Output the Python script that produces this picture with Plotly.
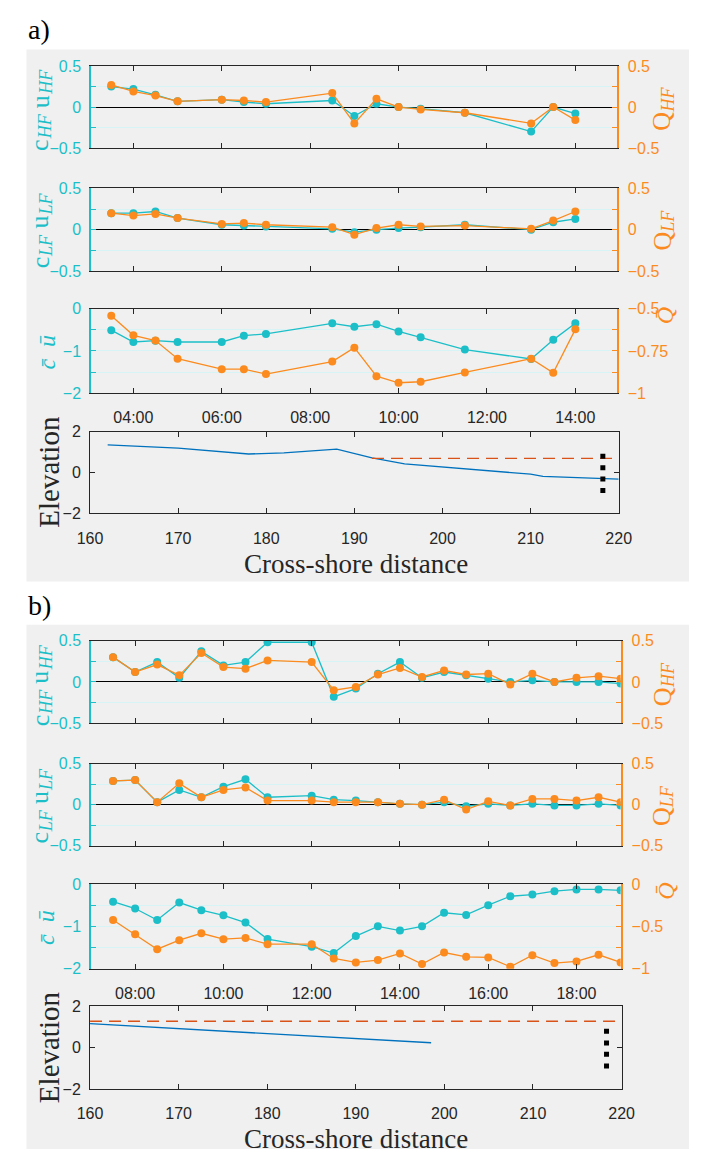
import plotly.graph_objects as go

W, H = 702, 1158


def px(x):
    return x / W


def py(y):
    return 1 - y / H


CYAN = "#1cbfc8"
ORANGE = "#fb8b1e"
GRID = "#d6f4f5"
DARK = "#262626"
BLUE = "#0072bd"
RED = "#d95319"
GRAY_BG = "#f0f0f0"
SANS = "Liberation Sans, Arial, sans-serif"
SERIF = "Liberation Serif, Times New Roman, serif"
DAY = "2000-01-01 "

# ---------------- data: panel a ----------------
times_a = ["03:30", "04:00", "04:30", "05:00", "06:00", "06:30", "07:00", "08:30",
           "09:00", "09:30", "10:00", "10:30", "11:30", "13:00", "13:30", "14:00"]
c_hf_a = [0.25, 0.22, 0.15, 0.07, 0.09, 0.06, 0.04, 0.08, -0.11, 0.04, 0.0, -0.02, -0.07, -0.30, 0.0, -0.08]
q_hf_a = [0.27, 0.19, 0.14, 0.07, 0.09, 0.08, 0.06, 0.17, -0.20, 0.10, 0.0, -0.03, -0.07, -0.20, 0.0, -0.16]
c_lf_a = [0.20, 0.20, 0.22, 0.14, 0.06, 0.05, 0.04, 0.01, -0.03, 0.0, 0.02, 0.03, 0.06, 0.0, 0.09, 0.13]
q_lf_a = [0.20, 0.17, 0.19, 0.14, 0.07, 0.08, 0.06, 0.03, -0.06, 0.02, 0.06, 0.04, 0.05, 0.01, 0.11, 0.22]
cbar_a = [-0.51, -0.79, -0.76, -0.79, -0.79, -0.64, -0.60, -0.35, -0.43, -0.37, -0.54, -0.68, -0.97, -1.19, -0.74, -0.35]
qbar_a = [-0.543, -0.658, -0.689, -0.796, -0.858, -0.858, -0.887, -0.813, -0.731, -0.899, -0.938, -0.932,
          -0.877, -0.796, -0.879, -0.623]
dist_a = [162, 170, 178, 182, 188, 190, 192, 195.7, 200, 204.8, 210, 211.4, 215.4, 220]
elev_a = [1.36, 1.20, 0.91, 0.96, 1.15, 0.95, 0.72, 0.43, 0.27, 0.11, -0.08, -0.19, -0.24, -0.32]
water_x_a = [192, 220]
water_y_a = [0.69, 0.69]
sensor_x_a = [218.2, 218.2, 218.2, 218.2]
sensor_y_a = [0.80, 0.24, -0.32, -0.88]

# ---------------- data: panel b ----------------
times_b = ["07:30", "08:00", "08:30", "09:00", "09:30", "10:00", "10:30", "11:00", "12:00", "12:30",
           "13:00", "13:30", "14:00", "14:30", "15:00", "15:30", "16:00", "16:30", "17:00", "17:30",
           "18:00", "18:30", "19:00"]
c_hf_b = [0.30, 0.12, 0.24, 0.05, 0.37, 0.20, 0.24, 0.48, 0.48, -0.18, -0.08, 0.10, 0.24, 0.05, 0.12,
          0.08, 0.04, 0.0, 0.02, 0.0, 0.0, 0.0, -0.02]
q_hf_b = [0.30, 0.12, 0.21, 0.08, 0.35, 0.18, 0.16, 0.26, 0.24, -0.10, -0.06, 0.09, 0.17, 0.06, 0.14,
          0.09, 0.10, -0.03, 0.10, 0.0, 0.05, 0.07, 0.04]
c_lf_b = [0.29, 0.30, 0.03, 0.18, 0.09, 0.22, 0.31, 0.09, 0.11, 0.06, 0.05, 0.03, 0.01, 0.0, 0.03,
          -0.02, 0.01, -0.01, 0.01, -0.01, -0.01, 0.01, -0.01]
q_lf_b = [0.29, 0.30, 0.03, 0.26, 0.09, 0.18, 0.21, 0.05, 0.05, 0.03, 0.03, 0.03, 0.01, 0.0, 0.06,
          -0.06, 0.04, -0.01, 0.07, 0.07, 0.05, 0.09, 0.03]
cbar_b = [-0.42, -0.58, -0.85, -0.44, -0.62, -0.74, -0.91, -1.30, -1.48, -1.63, -1.23, -1.0, -1.1, -1.0,
          -0.68, -0.73, -0.5, -0.29, -0.25, -0.17, -0.13, -0.13, -0.15]
qbar_b = [-0.426, -0.594, -0.77, -0.664, -0.582, -0.652, -0.637, -0.711, -0.711, -0.879, -0.926, -0.898,
          -0.82, -0.945, -0.809, -0.86, -0.867, -0.977, -0.84, -0.934, -0.914, -0.836, -0.926]
dist_b = [160, 170, 180, 190, 198.5]
elev_b = [1.15, 0.92, 0.69, 0.44, 0.23]
water_x_b = [160, 220]
water_y_b = [1.27, 1.27]
sensor_x_b = [218.3, 218.3, 218.3, 218.3]
sensor_y_b = [0.78, 0.22, -0.33, -0.89]

# tick settings: (labelled tick values, minor tick step, range)
flux_ticks = ([-0.5, 0, 0.5], 0.25, [-0.5, 0.5])
mean_ticks = ([-2, -1, 0], 0.5, [-2, 0])
qbar_ticks_a = ([-1, -0.75, -0.5], 0.125, [-1, -0.5])
qbar_ticks_b = ([-1, -0.5, 0], 0.25, [-1, 0])
dist_ticks = [160, 170, 180, 190, 200, 210, 220]
elev_ticks = [-2, 0, 2]

t_a = [DAY + t for t in times_a]
t_b = [DAY + t for t in times_b]
range_a = [DAY + "03:02:30", DAY + "14:56:15"]
range_b = [DAY + "07:00:00", DAY + "19:00:00"]

# pixel boxes (left, right, top, bottom)
boxes = {
    1: (81, 627, 59, 142), 2: (81, 627, 183, 267), 3: (81, 627, 305, 391), 4: (80, 629, 430, 513),
    5: (81, 631, 642, 726), 6: (81, 631, 767, 850), 7: (81, 631, 889, 975), 8: (80, 632, 1013, 1097),
}


def nm(prefix, i):
    return prefix + ("" if i == 1 else str(i))


fig = go.Figure()
layout = dict(width=W, height=H, margin=dict(l=0, r=0, t=0, b=0), paper_bgcolor="white",
              plot_bgcolor="white", showlegend=False)

flux_specs = [
    (1, t_a, range_a, c_hf_a, q_hf_a, flux_ticks, flux_ticks, 9),
    (2, t_a, range_a, c_lf_a, q_lf_a, flux_ticks, flux_ticks, 10),
    (3, t_a, range_a, cbar_a, qbar_a, mean_ticks, qbar_ticks_a, 11),
    (5, t_b, range_b, c_hf_b, q_hf_b, flux_ticks, flux_ticks, 12),
    (6, t_b, range_b, c_lf_b, q_lf_b, flux_ticks, flux_ticks, 13),
    (7, t_b, range_b, cbar_b, qbar_b, mean_ticks, qbar_ticks_b, 14),
]

for i, tt, rng, left, right, lt, rt, ri in flux_specs:
    l, r, t, b = boxes[i]
    xref = nm("x", i)
    yref = nm("y", i)
    rref = "y" + str(ri)
    layout[nm("xaxis", i)] = dict(
        domain=[px(l), px(r)], anchor=yref, type="date", range=rng, tickformat="%H:%M",
        dtick=7200000, tick0=DAY + "00:00", ticks="inside", ticklen=5, tickcolor=DARK,
        showline=True, linecolor=DARK, linewidth=1, mirror="ticks", showgrid=False, zeroline=False,
        showticklabels=(i in (3, 7)), tickfont=dict(family=SANS, size=16, color=DARK),
        ticklabelstandoff=10)
    layout[nm("yaxis", i)] = dict(
        domain=[py(b), py(t)], anchor=xref, range=lt[2], tickmode="array", tickvals=lt[0],
        ticks="inside", ticklen=5, tickcolor=CYAN, showline=True, linecolor=CYAN, linewidth=1.5,
        showgrid=True, gridcolor=GRID, gridwidth=1, zeroline=(i not in (3, 7)), zerolinecolor="black",
        zerolinewidth=1.2, tickfont=dict(family=SANS, size=16, color=CYAN), ticklabelstandoff=5,
        minor=dict(tick0=lt[2][0], dtick=lt[1], ticks="inside", ticklen=5, tickcolor=CYAN,
                   showgrid=True, gridcolor=GRID, gridwidth=1))
    layout["yaxis" + str(ri)] = dict(
        overlaying=yref, anchor=xref, side="right", range=rt[2], tickmode="array", tickvals=rt[0],
        ticks="inside", ticklen=5, tickcolor=ORANGE, showline=True, linecolor=ORANGE, linewidth=1.5,
        showgrid=False, zeroline=False, tickfont=dict(family=SANS, size=16, color=ORANGE),
        ticklabelstandoff=6,
        minor=dict(tick0=rt[2][0], dtick=rt[1], ticks="inside", ticklen=5, tickcolor=ORANGE,
                   showgrid=False))
    fig.add_trace(go.Scatter(x=tt, y=left, xaxis=xref, yaxis=yref, mode="lines+markers",
                             line=dict(color=CYAN, width=1.3), marker=dict(size=8, color=CYAN)))
    fig.add_trace(go.Scatter(x=tt, y=right, xaxis=xref, yaxis=rref, mode="lines+markers",
                             line=dict(color=ORANGE, width=1.3), marker=dict(size=8, color=ORANGE)))

# elevation subplots
elev_specs = [
    (4, dist_a, elev_a, water_x_a, water_y_a, sensor_x_a, sensor_y_a),
    (8, dist_b, elev_b, water_x_b, water_y_b, sensor_x_b, sensor_y_b),
]
for i, dx, ey, wx, wy, sx, sy in elev_specs:
    l, r, t, b = boxes[i]
    xref = nm("x", i)
    yref = nm("y", i)
    layout[nm("xaxis", i)] = dict(
        domain=[px(l), px(r)], anchor=yref, range=[160, 220], tickvals=dist_ticks,
        ticks="inside", ticklen=5, tickcolor=DARK, showline=True, linecolor=DARK, linewidth=1,
        mirror="ticks", showgrid=False, zeroline=False,
        tickfont=dict(family=SANS, size=16, color=DARK), ticklabelstandoff=10)
    layout[nm("yaxis", i)] = dict(
        domain=[py(b), py(t)], anchor=xref, range=[-2, 2], tickvals=elev_ticks,
        ticks="inside", ticklen=5, tickcolor=DARK, showline=True, linecolor=DARK, linewidth=1,
        mirror="ticks", showgrid=False, zeroline=False,
        tickfont=dict(family=SANS, size=16, color=DARK), ticklabelstandoff=5)
    fig.add_trace(go.Scatter(x=dx, y=ey, xaxis=xref, yaxis=yref, mode="lines",
                             line=dict(color=BLUE, width=1.3)))
    fig.add_trace(go.Scatter(x=wx, y=wy, xaxis=xref, yaxis=yref, mode="lines",
                             line=dict(color=RED, width=1.3, dash="12px,7px")))
    fig.add_trace(go.Scatter(x=sx, y=sy, xaxis=xref, yaxis=yref, mode="markers",
                             marker=dict(symbol="square", size=5, color="black")))

# gray panel backgrounds
layout["shapes"] = [
    dict(type="rect", xref="paper", yref="paper", x0=px(14), x1=1, y0=py(582), y1=py(42),
         fillcolor=GRAY_BG, line=dict(width=0), layer="below"),
    dict(type="rect", xref="paper", yref="paper", x0=px(14), x1=1, y0=0, y1=py(626),
         fillcolor=GRAY_BG, line=dict(width=0), layer="below"),
]


def ann(text, x, y, color, size, angle=0, family=SERIF):
    return dict(text=text, x=px(x), y=py(y), xref="paper", yref="paper", xanchor="center",
                yanchor="middle", showarrow=False, textangle=angle,
                font=dict(family=family, size=size, color=color))


# approximate glyph advance widths (em) for the serif label font
CHARW = {"c": 0.444, "u": 0.5, "Q": 0.722, "H": 0.722, "F": 0.611, "L": 0.556}


def rotated_label(pieces, cx, cy, color):
    """pieces: (text, size, italic, x-shift, gap-before); stacked bottom-to-top, rotated -90."""
    lens = [sum(CHARW[ch] for ch in txt) * size for txt, size, it, sh, gap in pieces]
    total = sum(lens) + sum(p[4] for p in pieces)
    y = cy + total / 2
    out = []
    for (txt, size, it, sh, gap), ln in zip(pieces, lens):
        y -= gap
        out.append(ann("<i>%s</i>" % txt if it else txt, cx + sh, y - ln / 2, color, size, -90))
        y -= ln
    return out


def cu_label(sub, cx, cy):
    return rotated_label([("c", 26, False, 0, 0), (sub, 18, True, 6, 1),
                          ("u", 26, False, 0, 7), (sub, 18, True, 6, 1)], cx, cy, CYAN)


def q_label(sub, cx, cy):
    return rotated_label([("Q", 26, False, 0, 0), (sub, 18, True, 6, 1)], cx, cy, ORANGE)


anns = [
    ann("a)", 27, 22, "black", 28),
    ann("b)", 27, 606, "black", 28),
]
for off in (0, 584):
    anns += cu_label("HF", 28, 104 + off)
    anns += q_label("HF", 674, 103 + off)
    anns += cu_label("LF", 28, 226 + off)
    anns += q_label("LF", 674, 226 + off)
    anns += [
        ann("<i>c̄</i>  <i>ū</i>", 35, 349 + off, CYAN, 24, -90),
        ann("<i>Q̄</i>", 678, 312 + off, ORANGE, 24, -90),
        ann("Elevation", 37, 471 + off, DARK, 29, -90),
        ann("Cross-shore distance", 356, 564 + off, DARK, 27),
    ]
layout["annotations"] = anns

fig.update_layout(**layout)
fig.write_html("out.html")
